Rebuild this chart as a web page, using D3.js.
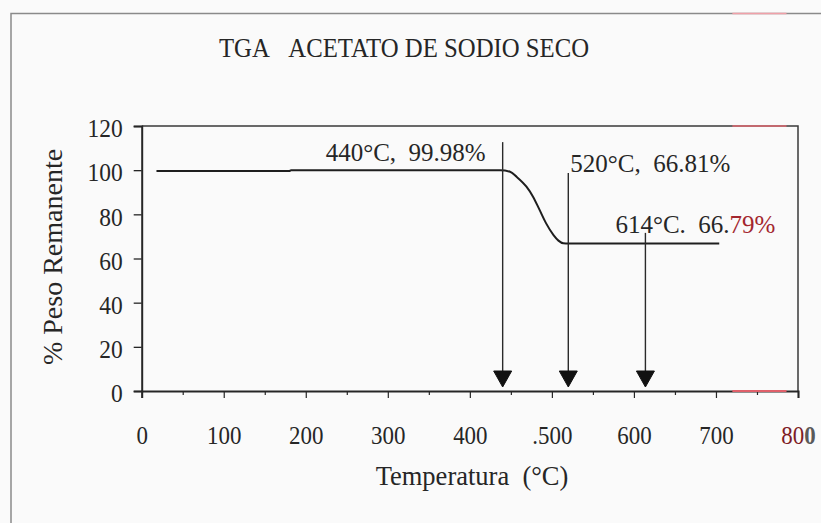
<!DOCTYPE html>
<html>
<head>
<meta charset="utf-8">
<script src="https://cdn.jsdelivr.net/npm/d3@7"></script>
<style>
  html, body { margin: 0; padding: 0; background: #fafafa; }
  svg { display: block; }
  text { font-family: "Liberation Serif", "Times New Roman", serif; fill: #262626; }
</style>
</head>
<body>
<svg id="chart" width="821" height="523"></svg>
<script>
// TGA curve of dry sodium acetate: temperature (°C) vs. remaining mass (%)
const temperature = [18, 180, 182, 437, 449, 457, 469, 477, 485, 493, 502, 508, 514, 520, 614, 704];
const remaining   = [99.6, 99.6, 99.98, 99.98, 99.3, 97.0, 92.5, 88.0, 82.0, 75.9, 70.6, 68.1, 66.9, 66.81, 66.79, 66.79];

// axis ticks and their printed labels
const xTicks = [0, 100, 200, 300, 400, 500, 600, 700, 800];
const xTickLabels = ["0", "100", "200", "300", "400", ".500", "600", "700", "800"];
const xMinorTicks = [50, 150, 250, 350, 450, 550, 650, 750];
const yTicks = [0, 20, 40, 60, 80, 100, 120];

// marked points on the curve
const markTemps  = [440, 520, 614];
const markValues = [99.98, 66.81, 66.79];
const markSeparators = [",", ",", "."];

const titleText = "TGA\u00a0\u00a0\u00a0ACETATO DE SODIO SECO";
const xTitle = "Temperatura\u00a0\u00a0(\u00b0C)";
const yTitle = "% Peso Remanente";

const svg = d3.select("#chart");
const plot = { left: 141.7, right: 798, top: 126, bottom: 391 };

const x = d3.scaleLinear().domain([0, 800]).range([plot.left, plot.right]);
const y = d3.scaleLinear().domain([0, 120]).range([plot.bottom, plot.top]);

const ink = "#262626";

// outer frame of the chart (top and left edges)
svg.append("path")
  .attr("d", "M11,523 V13.5 H821")
  .attr("fill", "none").attr("stroke", "#8a8a8a").attr("stroke-width", 1.5);

// title
svg.append("text")
  .attr("transform", "translate(404,57) scale(0.9,1)")
  .attr("text-anchor", "middle")
  .style("font-size", "27.5px")
  .text(titleText);

// plot box: top and right edges
svg.append("path")
  .attr("d", `M${x(0)},${y(120)} H${x(800)} V${y(0)}`)
  .attr("fill", "none").attr("stroke", "#3a3a3a").attr("stroke-width", 1.5);

// y axis
const yAxis = svg.append("g")
  .attr("transform", `translate(${plot.left},0)`)
  .call(d3.axisLeft(y).tickValues(yTicks).tickSize(8).tickFormat(d3.format("d")));
yAxis.select(".domain").attr("stroke", ink).attr("stroke-width", 2);
yAxis.selectAll(".tick line").attr("stroke", ink).attr("stroke-width", 1.3);
yAxis.selectAll(".tick text")
  .attr("x", null).attr("dy", "0.34em")
  .attr("transform", "translate(-19,2) scale(0.92,1)")
  .attr("fill", ink)
  .style("font-size", "25.5px").style("font-family", "Liberation Serif, serif");

// x axis: major ticks with labels
const xAxis = svg.append("g")
  .attr("transform", `translate(0,${plot.bottom})`)
  .call(d3.axisBottom(x).tickValues(xTicks).tickSize(7)
    .tickFormat((d, i) => xTickLabels[i]));
xAxis.select(".domain").attr("stroke", ink).attr("stroke-width", 2);
xAxis.selectAll(".tick line").attr("stroke", ink).attr("stroke-width", 1.2);
xAxis.selectAll(".tick text")
  .attr("y", 53).attr("dy", 0)
  .attr("transform", "scale(0.9,1)")
  .attr("fill", ink)
  .style("font-size", "25.5px").style("font-family", "Liberation Serif, serif");

// last label: "80" in red ink, final "0" in grey
xAxis.selectAll(".tick text").filter(d => d === 800).each(function () {
  const t = d3.select(this);
  const s = t.text();
  t.text(null);
  t.append("tspan").attr("fill", "#7d1d26").text(s.slice(0, -1));
  t.append("tspan").attr("fill", "#5a5a5a").style("font-weight", "bold").text(s.slice(-1));
});

// x axis: minor ticks
const xMinor = svg.append("g")
  .attr("transform", `translate(0,${plot.bottom})`)
  .call(d3.axisBottom(x).tickValues(xMinorTicks).tickSize(4).tickFormat(""));
xMinor.select(".domain").remove();
xMinor.selectAll(".tick line").attr("stroke", ink).attr("stroke-width", 1.2);

// red-ink touches along the right end of the horizontal rules
const redSegs = [[720, 786]];
redSegs.forEach(([a, b]) => {
  svg.append("line")
    .attr("x1", x(a)).attr("x2", x(b)).attr("y1", y(0)).attr("y2", y(0))
    .attr("stroke", "#e0606a").attr("stroke-width", 2);
  svg.append("line")
    .attr("x1", x(a)).attr("x2", x(b)).attr("y1", y(120)).attr("y2", y(120))
    .attr("stroke", "#e06a72").attr("stroke-width", 1.5);
  svg.append("line")
    .attr("x1", x(a)).attr("x2", x(b)).attr("y1", 13.5).attr("y2", 13.5)
    .attr("stroke", "#f0a0a8").attr("stroke-width", 1.5);
});

// axis titles
svg.append("text")
  .attr("transform", "translate(472,485)")
  .attr("text-anchor", "middle")
  .style("font-size", "26.5px")
  .text(xTitle);

svg.append("text")
  .attr("transform", "translate(62,257) rotate(-90)")
  .attr("text-anchor", "middle")
  .style("font-size", "28px")
  .text(yTitle);

// TGA curve
const line = d3.line()
  .x((d, i) => x(temperature[i]))
  .y(d => y(d))
  .curve(d3.curveMonotoneX);

svg.append("path")
  .datum(remaining)
  .attr("d", line)
  .attr("fill", "none")
  .attr("stroke", "#1e1e1e")
  .attr("stroke-width", 2);

// arrows marking the characteristic temperatures
const headW = 18, headH = 16;
const tipY = y(0) - 4;
const arrowTops = [y(112.7), y(98.7), y(71.6)];

markTemps.forEach((t, i) => {
  const ax = x(t);
  svg.append("line")
    .attr("x1", ax).attr("x2", ax)
    .attr("y1", arrowTops[i]).attr("y2", tipY - headH + 2)
    .attr("stroke", "#2a2a2a").attr("stroke-width", 1.4);
  svg.append("path")
    .attr("d", `M${ax - headW / 2},${tipY - headH} L${ax + headW / 2},${tipY - headH} L${ax},${tipY} Z`)
    .attr("fill", "#111")
    .attr("stroke", "#111").attr("stroke-width", 1).attr("stroke-linejoin", "round");
});

// point labels
const labelAnchor = [
  { dx: -17, baseline: 161, anchor: "end" },
  { dx: 2, baseline: 172, anchor: "start" },
  { dx: -30, baseline: 233, anchor: "start" }
];
markTemps.forEach((t, i) => {
  const p = labelAnchor[i];
  const txt = svg.append("text")
    .attr("transform", `translate(${x(t) + p.dx},${p.baseline})`)
    .attr("text-anchor", p.anchor)
    .style("font-size", "25px");
  const valueStr = markValues[i].toFixed(2) + "%";
  txt.append("tspan").text(`${t}\u00b0C${markSeparators[i]}\u00a0\u00a0`);
  if (i === 2) {
    const cut = valueStr.indexOf(".") + 1;
    txt.append("tspan").text(valueStr.slice(0, cut));
    txt.append("tspan").attr("fill", "#a3262e").text(valueStr.slice(cut));
  } else {
    txt.append("tspan").text(valueStr);
  }
});
</script>
</body>
</html>
